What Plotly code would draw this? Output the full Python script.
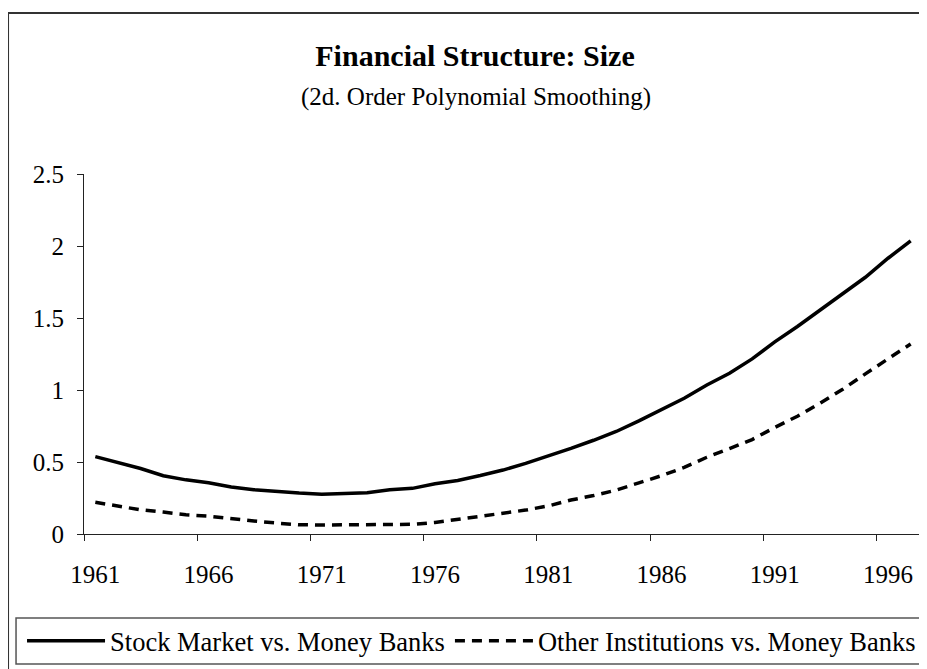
import plotly.graph_objects as go

years = list(range(1961, 1998))
stock_market = [0.537, 0.495, 0.455, 0.405, 0.376, 0.356, 0.327, 0.308, 0.295, 0.284,
                0.276, 0.283, 0.287, 0.308, 0.317, 0.349, 0.372, 0.406, 0.444, 0.490,
                0.541, 0.594, 0.651, 0.712, 0.786, 0.865, 0.943, 1.035, 1.116, 1.216,
                1.334, 1.441, 1.554, 1.673, 1.783, 1.915, 2.035]
other_inst = [0.220, 0.193, 0.168, 0.152, 0.133, 0.124, 0.104, 0.090, 0.076, 0.064,
              0.0625, 0.0625, 0.0625, 0.0625, 0.067, 0.080, 0.100, 0.122, 0.144, 0.166,
              0.195, 0.236, 0.267, 0.305, 0.355, 0.405, 0.462, 0.533, 0.593, 0.656,
              0.740, 0.818, 0.908, 1.005, 1.112, 1.215, 1.320]
tick_years = [1961, 1966, 1971, 1976, 1981, 1986, 1991, 1996]
y_ticks = [0, 0.5, 1, 1.5, 2, 2.5]
y_tick_text = ["0", "0.5", "1", "1.5", "2", "2.5"]

FONT = "Liberation Serif, Times New Roman, serif"

fig = go.Figure()
fig.add_trace(go.Scatter(x=years, y=stock_market, mode="lines",
                         name="Stock Market vs. Money Banks",
                         line=dict(color="black", width=3.5)))
fig.add_trace(go.Scatter(x=years, y=other_inst, mode="lines",
                         name="Other Institutions vs. Money Banks",
                         line=dict(color="black", width=3.5, dash="10px,7px")))

# the page body has an 8px default margin; size the figure to fit the window
OFF = 8
W, H = 927 - OFF, 669 - OFF
# plot area in screen pixels: x 84..922.4, y 174..534
L = 84 - OFF
R = W - (922.4 - OFF)
T = 174 - OFF
B = H - (534 - OFF)
pw = W - L - R
ph = H - T - B

def px(x):  # screen x -> paper
    return (x - OFF - L) / pw

def py(y):  # screen y -> paper
    return (H - B - (y - OFF)) / ph

fig.update_layout(
    width=W, height=H,
    margin=dict(l=L, r=R, t=T, b=B),
    paper_bgcolor="white", plot_bgcolor="white",
    font=dict(family=FONT, color="black", size=25),
    title=dict(text="<b>Financial Structure: Size</b>", x=(475 - OFF) / W, xanchor="center",
               xref="container", y=1 - (55 - OFF) / H, yanchor="middle", yref="container",
               font=dict(size=30, family=FONT, color="black")),
    showlegend=True,
    legend=dict(orientation="h", x=px(22), xanchor="left", y=py(641), yanchor="middle",
                font=dict(size=26.5, family=FONT, color="black"),
                bgcolor="rgba(0,0,0,0)", borderwidth=0, itemwidth=78,
                itemclick=False, itemdoubleclick=False),
    xaxis=dict(range=[1960.5, 1997.5], showgrid=False, zeroline=False,
               showline=True, linecolor="#222", linewidth=1,
               tickmode="array", tickvals=tick_years,
               ticktext=[str(t) for t in tick_years], ticks="",
               ticklabelstandoff=18,
               tickfont=dict(size=25, family=FONT, color="black"),
               minor=dict(tickmode="array", tickvals=[t - 0.5 for t in tick_years],
                          ticks="outside", ticklen=6, tickcolor="#222", tickwidth=1)),
    yaxis=dict(range=[0, 2.5], showgrid=False, zeroline=False,
               showline=True, linecolor="#222", linewidth=1,
               tickmode="array", tickvals=y_ticks, ticktext=y_tick_text,
               ticks="outside", ticklen=6, tickcolor="#222", tickwidth=1,
               ticklabelstandoff=8,
               tickfont=dict(size=25, family=FONT, color="black")),
    annotations=[
        dict(text="(2d. Order Polynomial Smoothing)", xref="paper", yref="paper",
             x=px(476), y=py(97), xanchor="center", yanchor="middle", showarrow=False,
             font=dict(size=25, family=FONT, color="black")),
    ],
    shapes=[
        # chart area border
        dict(type="rect", xref="paper", yref="paper", x0=px(8), x1=px(940),
             y0=py(690), y1=py(13), line=dict(color="#333", width=2), layer="below"),
        # legend box
        dict(type="rect", xref="paper", yref="paper", x0=px(16), x1=px(940),
             y0=py(664), y1=py(618), line=dict(color="#555", width=1.5), layer="below"),
    ],
)

fig.write_html("out.html")
